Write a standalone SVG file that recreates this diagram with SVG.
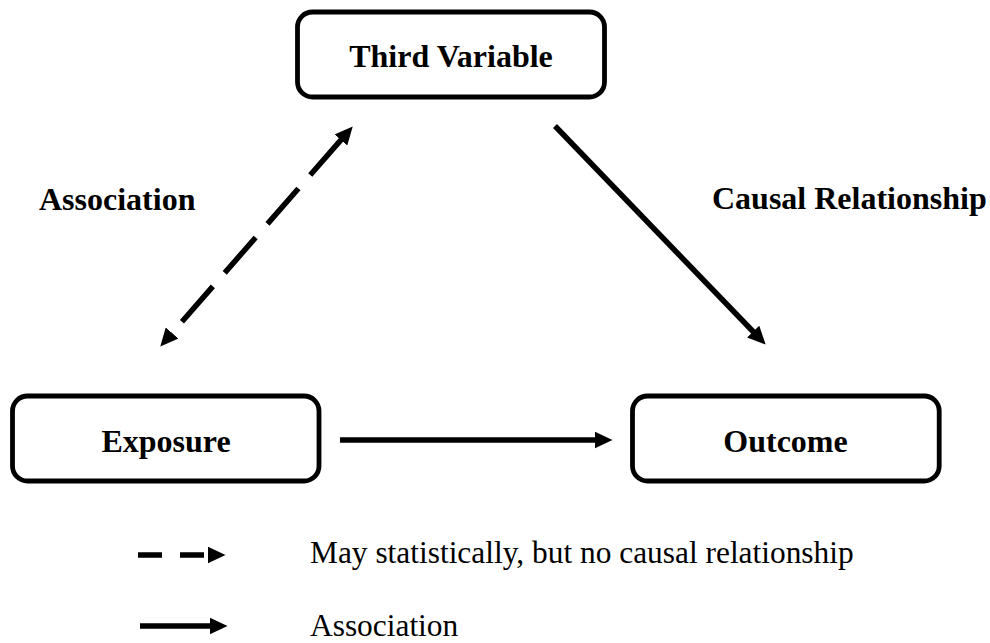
<svg xmlns="http://www.w3.org/2000/svg" width="990" height="643" viewBox="0 0 990 643">
<style>
.box{fill:#fff;stroke:#000;stroke-width:4.8}
.lbl{font-family:"Liberation Serif","Times New Roman",serif;font-weight:bold;font-size:32px;fill:#000}
.leg{font-family:"Liberation Serif","Times New Roman",serif;font-size:31.4px;fill:#000}
.ln{fill:none;stroke:#000;stroke-width:5.5}
.dash{stroke-dasharray:47 18}
</style>
<defs>
<marker id="ah" markerUnits="userSpaceOnUse" viewBox="0 0 18 17" markerWidth="18" markerHeight="17" refX="0.5" refY="8.5" orient="auto-start-reverse">
<path d="M0,0 L18,8.5 L0,17 z" fill="#000"/>
</marker>
</defs>
<rect width="990" height="643" fill="#fff"/>
<g id="node-third">
<rect class="box" x="297.5" y="12" width="307" height="85" rx="15"/>
<text class="lbl" x="451" y="67" text-anchor="middle">Third Variable</text>
</g>
<g id="node-exposure">
<rect class="box" x="12.5" y="396" width="306.5" height="85" rx="15"/>
<text class="lbl" x="166" y="452" text-anchor="middle">Exposure</text>
</g>
<g id="node-outcome">
<rect class="box" x="632.5" y="396" width="306.7" height="85" rx="15"/>
<text class="lbl" x="785.5" y="452" text-anchor="middle">Outcome</text>
</g>
<g id="connectors">
<line class="ln dash" x1="341.2" y1="139.6" x2="171.8" y2="333.4" marker-start="url(#ah)" marker-end="url(#ah)"/>
<line class="ln" x1="555" y1="126" x2="753.5" y2="332" marker-end="url(#ah)"/>
<line class="ln" x1="340" y1="440" x2="595" y2="440" marker-end="url(#ah)"/>
</g>
<g id="edge-labels">
<text class="lbl" x="39" y="210">Association</text>
<text class="lbl" x="712" y="209">Causal Relationship</text>
</g>
<g id="legend">
<line class="ln" x1="138" y1="555" x2="208" y2="555" style="stroke-dasharray:24 18" marker-end="url(#ah)"/>
<text class="leg" x="310" y="563">May statistically, but no causal relationship</text>
<line class="ln" x1="140" y1="626" x2="210" y2="626" marker-end="url(#ah)"/>
<text class="leg" x="310" y="636">Association</text>
</g>
</svg>
